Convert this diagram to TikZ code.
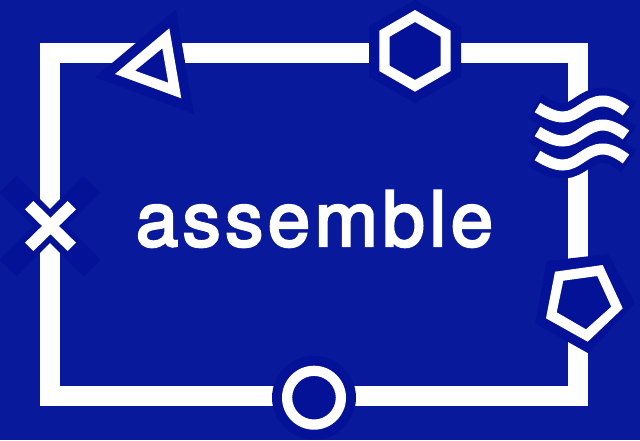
\documentclass[tikz,border=0pt]{standalone}
\usepackage{fontspec}
\setmainfont{TeX Gyre Heros}[FakeBold=3.2,LetterSpace=6]
\definecolor{bgblue}{RGB}{8,26,155}
\definecolor{halo}{RGB}{3,18,150}
\tikzset{
  frameline/.style={draw=white,line width=20pt,miter limit=10},
  haloshape/.style={fill=halo,draw=none},
  glyph/.style={fill=white,draw=none,even odd rule},
  waveline/.style={draw=white,line width=11pt,line cap=butt},
  wavehalo/.style={draw=halo,line width=27pt,line cap=butt},
  crossline/.style={draw=white,line width=11.8pt},
  crosshalo/.style={draw=halo,line width=24pt},
  title/.style={text=white,font=\fontsize{76}{80}\selectfont,inner sep=0pt,anchor=base}
}
\begin{document}
\begin{tikzpicture}[x=1pt,y=-1pt]
\useasboundingbox (0,0) rectangle (640,440);
\clip (0,0) rectangle (640,440);
\fill[bgblue] (0,0) rectangle (640,440);
% frame
\draw[frameline] (50,53) rectangle (578,396);
% triangle
\fill[haloshape] (176,9.3) -- (194,114) -- (95,77.3) -- cycle;
\fill[glyph] (169.3,28.3) -- (181.3,98.3) -- (115,74) -- cycle
  (162.3,48.3) -- (168.3,82.7) -- (135,70.7) -- cycle;
% hexagon
\fill[haloshape] (415,0) -- (461,26) -- (461,77) -- (415,103) -- (369,77) -- (369,26) -- cycle;
\fill[glyph] (415,10) -- (450.7,30.7) -- (450.7,71) -- (415,91.7) -- (379.3,71) -- (379.3,30.7) -- cycle
  (415,22) -- (440.7,36.7) -- (440.7,65.7) -- (415,80) -- (389.7,65.7) -- (389.7,36.7) -- cycle;
% waves
\foreach \d in {0,24,48}{
  \draw[wavehalo] (535,106.5+\d) .. controls (548,114+\d) and (556,117+\d) .. (563,117+\d)
     .. controls (578,117+\d) and (586,101+\d) .. (603,101+\d)
     .. controls (610,101+\d) and (618,105+\d) .. (629,113+\d);
}
\foreach \d in {0,24,48}{
  \draw[waveline] (537.5,107.5+\d) .. controls (548,114+\d) and (556,117+\d) .. (563,117+\d)
     .. controls (578,117+\d) and (586,101+\d) .. (603,101+\d)
     .. controls (610,101+\d) and (618,105+\d) .. (626,111+\d);
}
% pentagon
\fill[haloshape] (546.7,261) -- (608.3,254) -- (635,303.3) -- (588.3,353.3) -- (535,323.3) -- cycle;
\fill[glyph] (555,271.7) -- (602.7,265) -- (622.7,308.3) -- (587.7,341.7) -- (546,318.3) -- cycle
  (563.3,280.7) -- (597.3,276) -- (611.3,306.7) -- (586,329.3) -- (556.7,312.3) -- cycle;
% cross
\draw[crosshalo] (8,184) -- (92,268);
\draw[crosshalo] (92,184) -- (8,268);
\draw[crossline] (29.2,205.2) -- (71.8,246.8);
\draw[crossline] (71.8,205.2) -- (29.2,246.8);
% circle
\fill[haloshape] (314,397.7) circle[radius=42];
\fill[glyph] (314,397.7) circle[radius=32] (314,397.7) circle[radius=21.8];
% title
\node[title] (word) at (314.5,246) {assemble};
\end{tikzpicture}
\end{document}
